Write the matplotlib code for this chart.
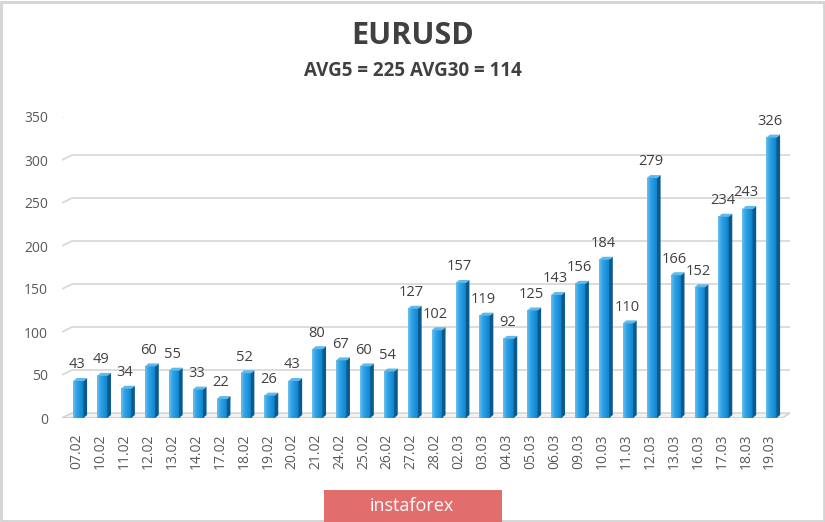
import numpy as np
import matplotlib
matplotlib.use('Agg')
import matplotlib.pyplot as plt
from matplotlib.patches import Polygon, Rectangle
from matplotlib.colors import LinearSegmentedColormap

dates = ['07.02', '10.02', '11.02', '12.02', '13.02', '14.02', '17.02', '18.02',
         '19.02', '20.02', '21.02', '24.02', '25.02', '26.02', '27.02', '28.02',
         '02.03', '03.03', '04.03', '05.03', '06.03', '09.03', '10.03', '11.03',
         '12.03', '13.03', '16.03', '17.03', '18.03', '19.03']
values = [43, 49, 34, 60, 55, 33, 22, 52, 26, 43, 80, 67, 60, 54, 127, 102,
          157, 119, 92, 125, 143, 156, 184, 110, 279, 166, 152, 234, 243, 326]
yticks = [0, 50, 100, 150, 200, 250, 300, 350]

plt.rcParams['font.family'] = ['Open Sans', 'DejaVu Sans']

fig = plt.figure(figsize=(8.25, 5.22), dpi=100)
ax = fig.add_axes([62/825, 1-418/522, 728/825, (418-117)/522])
x0, x1 = -0.615, 29.85
ax.set_xlim(x0, x1)
ax.set_ylim(0, 350)
for s in ax.spines.values():
    s.set_visible(False)

# 3d look: depth offsets
dx_floor, dy_floor = 0.42, 5.8
grid_c = '#d9d9d9'
for v in yticks[1:]:
    ax.plot([x0, x0 + dx_floor, x1], [v, v + dy_floor, v + dy_floor],
            color=grid_c, lw=1.3, solid_capstyle='butt', zorder=0)
# floor
floor = Polygon([[x0, 0.3], [x1 - 0.3, 0.3], [x1, dy_floor], [x0 + dx_floor, dy_floor]],
                closed=True, facecolor='#f2f2f2', edgecolor='#d0d0d0', lw=1.0, zorder=0)
ax.add_patch(floor)

cmap = LinearSegmentedColormap.from_list('bar', ['#6cc0ee', '#2fa3e6', '#1c93dc', '#1080c8'])
grad = np.linspace(0, 1, 64).reshape(1, -1)
w = 0.43
sd, su = 0.15, 3.5
off = 0.07
for i, v in enumerate(values):
    l = i + off - w/2
    r = i + off + w/2
    ax.imshow(grad, cmap=cmap, extent=[l, r, 0, v], aspect='auto', zorder=2,
              interpolation='bilinear')
    side = Polygon([[r, 0], [r + sd, su], [r + sd, v + su], [r, v]],
                   closed=True, facecolor='#0b5a8e', edgecolor='none', zorder=2)
    top = Polygon([[l, v], [r, v], [r + sd, v + su], [l + sd, v + su]],
                  closed=True, facecolor='#5fb9ea', edgecolor='none', zorder=2)
    ax.add_patch(side)
    ax.add_patch(top)
    ax.text(i + 0.02, v + 10, str(v), ha='center', va='bottom', fontsize=10.5,
            color='#404040', zorder=3)

ax.set_xlim(x0, x1)
ax.set_ylim(0, 350)
ax.set_yticks(yticks)
ax.set_yticklabels([str(t) for t in yticks], fontsize=10, color='#595959')
ax.set_xticks(range(len(dates)))
ax.set_xticklabels(dates, rotation=90, fontsize=10, color='#595959')
ax.tick_params(length=0)
ax.tick_params(axis='x', pad=11)
ax.tick_params(axis='y', pad=10)

fig.text(0.5, 1-36/522, 'EURUSD', ha='center', va='center', fontsize=22,
         fontweight='bold', color='#404040')
fig.text(0.5, 1-71.5/522, 'AVG5 = 225 AVG30 = 114', ha='center', va='center',
         fontsize=13.5, fontweight='bold', color='#404040')

# border
fig.add_artist(Rectangle((0.0015, 0.002), 0.997, 0.995, transform=fig.transFigure,
                         fill=False, edgecolor='#d4d4d4', lw=2))
# watermark
fig.add_artist(Rectangle((324/825, 0), 178/825, 32/522, transform=fig.transFigure,
                         facecolor='#e26d6d', edgecolor='none'))
fig.text(412/825, 16/522, 'instaforex', ha='center', va='center', fontsize=13,
         color='white')

fig.savefig('out.png', dpi=100)
